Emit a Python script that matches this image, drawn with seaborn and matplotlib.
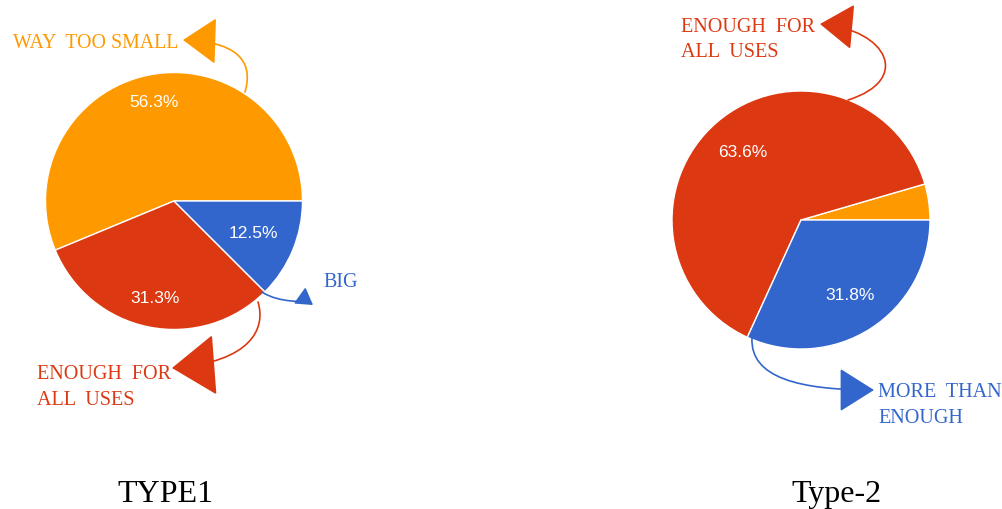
import numpy as np
import matplotlib
matplotlib.use("Agg")
import matplotlib.pyplot as plt
import seaborn as sns
from matplotlib.patches import FancyArrowPatch, ArrowStyle
from matplotlib.path import Path

# ---- data ----
categories_1 = ["WAY TOO SMALL", "ENOUGH FOR ALL USES", "BIG"]
values_1 = [56.3, 31.3, 12.5]
categories_2 = ["WAY TOO SMALL", "ENOUGH FOR ALL USES", "MORE THAN ENOUGH"]
values_2 = [4.5, 63.6, 31.8]
slice_colors = ["#FF9900", "#DC3912", "#3366CC"]
titles = ["TYPE1", "Type-2"]

sns.set_theme(style="white")
plt.rcParams['font.family'] = ['Liberation Sans', 'DejaVu Sans']

W, H = 1002, 509
fig = plt.figure(figsize=(W / 100, H / 100), dpi=100)
ax = fig.add_axes([0, 0, 1, 1])


def P(x, y):
    return (x, H - y)


def draw_pie(vals, center, radius, dists):
    wedges, _ = ax.pie(vals, colors=slice_colors, startangle=0, counterclock=True,
                       center=center, radius=radius,
                       wedgeprops=dict(edgecolor="white", linewidth=1.0))
    for w, v, d in zip(wedges, vals, dists):
        if v < 10:
            continue
        th = np.deg2rad((w.theta1 + w.theta2) / 2)
        ax.text(center[0] + radius * d * np.cos(th), center[1] + radius * d * np.sin(th),
                f"{v:.1f}%", color="white", fontsize=12.5, ha="center", va="center",
                family=["Liberation Sans", "DejaVu Sans"])


draw_pie(values_1, P(174, 201), 128.5, [0.78, 0.77, 0.67])
draw_pie(values_2, P(801, 220), 129, [0.0, 0.69, 0.70])


def arrow(pts, color, hl_px, hw_px):
    verts = [P(*p) for p in pts]
    path = Path(verts, [Path.MOVETO, Path.CURVE4, Path.CURVE4, Path.CURVE4])
    style = ArrowStyle("-|>", head_length=hl_px * 0.72, head_width=hw_px * 0.72)
    a = FancyArrowPatch(path=path, arrowstyle=style, mutation_scale=1,
                        color=color, lw=1.2)
    ax.add_patch(a)


serif = ["Liberation Serif", "DejaVu Serif"]


def label(lines, x, y0, color, ha="left", size=14.5, step=26):
    for i, ln in enumerate(lines):
        tx, ty = P(x, y0 + i * step)
        ax.text(tx, ty, ln, color=color, fontsize=size, ha=ha, va="baseline", family=serif)


# Type1 annotations
arrow([(245, 92), (252, 68), (246, 42), (183, 40)], slice_colors[0], 30, 21)
label(["WAY  TOO SMALL"], 178, 48, slice_colors[0], ha="right", size=14.3)

arrow([(258, 302), (266, 328), (252, 362), (172, 368)], slice_colors[1], 40, 28)
label(["ENOUGH  FOR", "ALL  USES"], 37, 379, slice_colors[1])

arrow([(262, 292), (280, 304), (306, 300), (313, 305)], slice_colors[2], 14, 8.5)
label(["BIG"], 323, 287, slice_colors[2])

# Type2 annotations
arrow([(848, 100), (912, 80), (888, 30), (820, 24)], slice_colors[1], 30, 20.5)
label(["ENOUGH  FOR", "ALL  USES"], 681, 32, slice_colors[1], step=25)

arrow([(752, 338), (750, 378), (800, 390), (874, 390)], slice_colors[2], 31, 19.5)
label(["MORE  THAN", "ENOUGH"], 878, 397, slice_colors[2])

# titles
for t, cx in zip(titles, [165, 837]):
    tx, ty = P(cx, 502)
    ax.text(tx, ty, t, color="black", fontsize=23, ha="center", va="baseline", family=serif)

ax.set_xlim(0, W)
ax.set_ylim(0, H)
ax.set_aspect("auto")
ax.axis("off")

fig.savefig("out.png", dpi=100, facecolor="white")
